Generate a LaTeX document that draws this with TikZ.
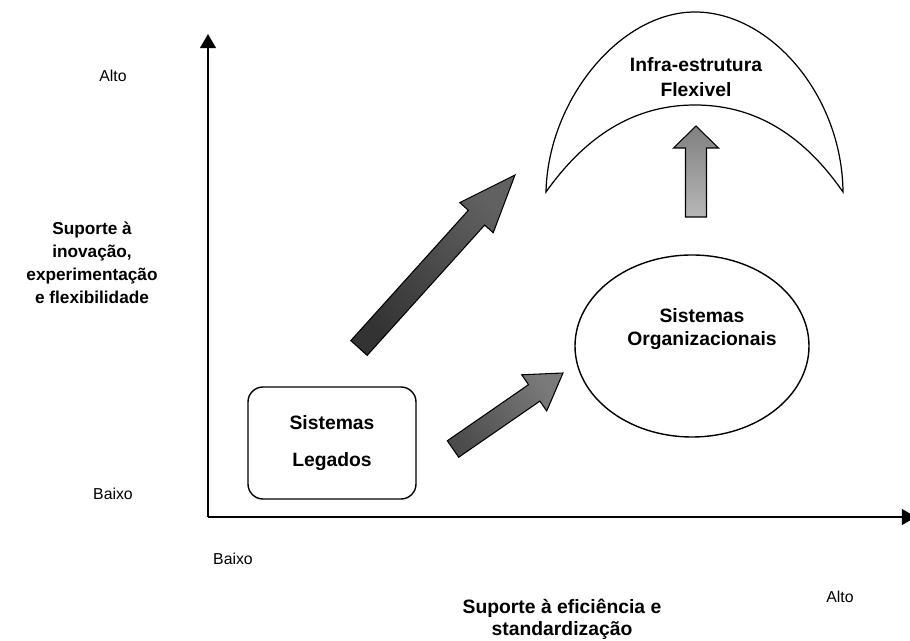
\documentclass[tikz,border=0pt]{standalone}
\usepackage{fontspec}
\setmainfont{Liberation Sans}
\usetikzlibrary{arrows.meta,calc,shapes.geometric}

% block arrow: #1 tail, #2 tip, #3 shaft half width, #4 head half width, #5 head length, #6 style
\newcommand{\blockarrow}[6]{%
  \coordinate (#1-h) at ($(#2)!#5!(#1)$);
  \path[#6] ($(#1)!#3!90:(#2)$) -- ($(#1-h)!#3!90:(#2)$) -- ($(#1-h)!#4!90:(#2)$)
    -- (#2) -- ($(#1-h)!#4!-90:(#2)$) -- ($(#1-h)!#3!-90:(#2)$) -- ($(#1)!#3!-90:(#2)$) -- cycle;
}

\tikzset{
  lbl/.style={font=\fontsize{9}{10}\selectfont},
  ylab/.style={font=\fontsize{9.8}{13}\selectfont\bfseries, align=center},
  xlab/.style={font=\fontsize{11}{12.5}\selectfont\bfseries, align=center},
  boxtxt/.style={font=\fontsize{11}{13.6}\selectfont\bfseries, align=center},
  outline/.style={draw=black, line width=0.8pt},
  axis/.style={line width=0.9pt, -{Triangle[length=8pt,width=9pt]}},
}

\begin{document}
\begin{tikzpicture}[x=0.02cm,y=-0.02cm]
\useasboundingbox (0,0) rectangle (910,641);

% axes
\coordinate (O) at (208,517);
\coordinate (ytop) at (208,34);
\coordinate (xend) at (916,517);
\draw[axis] (O) -- (ytop);
\draw[axis] (O) -- (xend);

% axis labels
\node[lbl] (yhi) at (113,76) {Alto};
\node[lbl] (ylo) at (113,494) {Baixo};
\node[lbl] (xlo) at (233,559) {Baixo};
\node[lbl] (xhi) at (840,597) {Alto};
\node[ylab] (ytitle) at (92,263) {Suporte à\\inovação,\\experimentação\\e flexibilidade};
\node[xlab] (xtitle) at (562,619) {Suporte à eficiência e\\standardização};

% legacy systems
\node[outline, rounded corners=0.3cm, minimum width=168*0.02cm, minimum height=112*0.02cm,
      boxtxt, font=\fontsize{11}{21.5}\selectfont\bfseries] (leg) at (332,443) {Sistemas\\Legados};

% organisational systems
\node[outline, ellipse, minimum width=234*0.02cm, minimum height=182*0.02cm] (org) at (692,346) {};
\node[boxtxt] (orgtxt) at (702,329) {Sistemas\\Organizacionais};

% flexible infrastructure (crescent)
\coordinate (cl) at (546,192);
\coordinate (cr) at (843,192);
\coordinate (ctop) at (695,12);
\coordinate (cin) at (695,105);
\draw[line width=0.7pt]
  (cl) .. controls (548,100) and (620,12) .. (ctop)
       .. controls (770,12) and (842,95) .. (cr)
       .. controls (800,130) and (750,105) .. (cin)
       .. controls (640,105) and (590,130) .. (cl) -- cycle;
\node[boxtxt, font=\fontsize{11}{14}\selectfont\bfseries] (inftxt) at (696,77) {Infra-estrutura\\Flexivel};

% block arrows
\coordinate (bigT) at (359,348);
\coordinate (bigH) at (515,175);
\blockarrow{bigT}{bigH}{0.22cm}{0.45cm}{1.15cm}{outline, line width=0.6pt, left color=black!80, right color=black!62, shading angle=135}

\coordinate (smT) at (453,449);
\coordinate (smH) at (563,373);
\blockarrow{smT}{smH}{0.2cm}{0.44cm}{0.7cm}{outline, line width=0.6pt, left color=black!70, right color=black!52, shading angle=125}

\coordinate (upT) at (696,217);
\coordinate (upH) at (696,126);
\blockarrow{upT}{upH}{0.21cm}{0.45cm}{0.44cm}{outline, line width=0.6pt, top color=black!50, bottom color=black!28}
\end{tikzpicture}
\end{document}
